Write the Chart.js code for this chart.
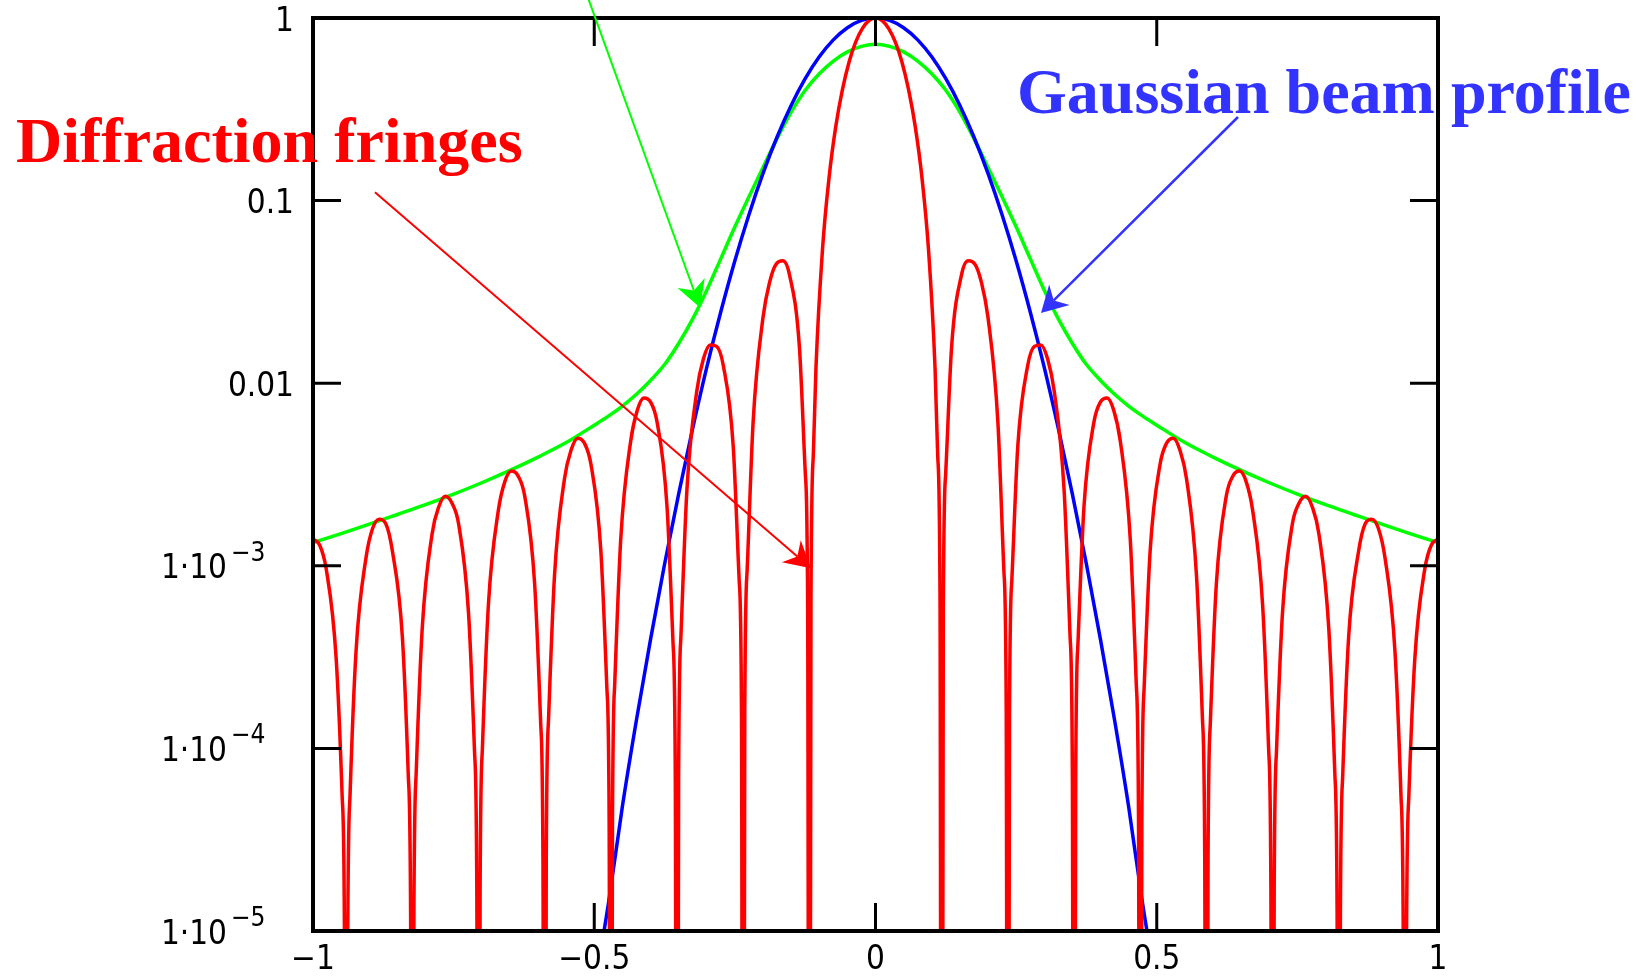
<!DOCTYPE html>
<html lang="en">
<head>
<meta charset="utf-8">
<title>Diffraction fringes</title>
<script src="https://cdn.jsdelivr.net/npm/chart.js@4.4.1/dist/chart.umd.min.js"></script>
<style>
  html, body { margin: 0; padding: 0; background: #fff; }
  #wrap { width: 1641px; height: 980px; }
</style>
</head>
<body>
<div id="wrap"><canvas id="beugung" width="1641" height="980"></canvas></div>
<script>
// --- Achsen / Ticks ---
const X_TICKS     = [-1, -0.5, 0, 0.5, 1];
const X_TICK_TEXT = ['\u22121', '\u22120.5', '0', '0.5', '1'];
const Y_TICKS     = [1e-5, 1e-4, 1e-3, 0.01, 0.1, 1];
const Y_TICK_TEXT = ['1\u00b710', '1\u00b710', '1\u00b710', '0.01', '0.1', '1'];
const Y_TICK_EXP  = ['\u22125', '\u22124', '\u22123', '', '', ''];

// --- Beugungsstreifen (rot), Nullstellen als 1e-9 -> laufen unten aus dem Bild ---
const redX = [
  -1.0, -0.9882, -0.9765, -0.9588, -0.9482, -0.9441, -0.9412,
  -0.9382, -0.9341, -0.9235, -0.9059, -0.8941, -0.8824, -0.8706, -0.8588, -0.8412, -0.8306, -0.8265, -0.8235,
  -0.8206, -0.8165, -0.8059, -0.7882, -0.7765, -0.7647, -0.7529, -0.7412, -0.7235, -0.7129, -0.7088, -0.7059,
  -0.7029, -0.6988, -0.6882, -0.6706, -0.6588, -0.6471, -0.6353, -0.6235, -0.6059, -0.5953, -0.5912, -0.5882,
  -0.5853, -0.5812, -0.5706, -0.5529, -0.5412, -0.5294, -0.5176, -0.5059, -0.4882, -0.4776, -0.4735, -0.4706,
  -0.4676, -0.4635, -0.4529, -0.4353, -0.4235, -0.4118, -0.4, -0.3882, -0.3706, -0.36, -0.3559, -0.3529,
  -0.35, -0.3459, -0.3353, -0.3176, -0.3059, -0.2941, -0.2824, -0.2706, -0.2529, -0.2424, -0.2382, -0.2353,
  -0.2324, -0.2282, -0.2176, -0.2, -0.1882, -0.1765, -0.1647, -0.1529, -0.1353, -0.1247, -0.1206, -0.1176,
  -0.1147, -0.1106, -0.1059, -0.0941, -0.0824, -0.0706, -0.0588, -0.0471, -0.0353, -0.0235, -0.0118,
  0,
  0.0118, 0.0235, 0.0353, 0.0471, 0.0588, 0.0706, 0.0824, 0.0941, 0.1059, 0.1106, 0.1147,
  0.1176, 0.1206, 0.1247, 0.1353, 0.1529, 0.1647, 0.1765, 0.1882, 0.2, 0.2176, 0.2282, 0.2324,
  0.2353, 0.2382, 0.2424, 0.2529, 0.2706, 0.2824, 0.2941, 0.3059, 0.3176, 0.3353, 0.3459, 0.35,
  0.3529, 0.3559, 0.36, 0.3706, 0.3882, 0.4, 0.4118, 0.4235, 0.4353, 0.4529, 0.4635, 0.4676,
  0.4706, 0.4735, 0.4776, 0.4882, 0.5059, 0.5176, 0.5294, 0.5412, 0.5529, 0.5706, 0.5812, 0.5853,
  0.5882, 0.5912, 0.5953, 0.6059, 0.6235, 0.6353, 0.6471, 0.6588, 0.6706, 0.6882, 0.6988, 0.7029,
  0.7059, 0.7088, 0.7129, 0.7235, 0.7412, 0.7529, 0.7647, 0.7765, 0.7882, 0.8059, 0.8165, 0.8206,
  0.8235, 0.8265, 0.8306, 0.8412, 0.8588, 0.8706, 0.8824, 0.8941, 0.9059, 0.9235, 0.9341, 0.9382,
  0.9412, 0.9441, 0.9482, 0.9588, 0.9765, 0.9882, 1.0
];
const redY = [
  0.0014, 0.0013, 0.00096, 0.00031, 5.5e-5, 9.7e-6, 1e-9,
  9.8e-6, 5.6e-5, 0.00034, 0.0011, 0.0016, 0.0018, 0.0017, 0.0012, 0.00041, 7.1e-5, 1.26e-5, 1e-9,
  1.28e-5, 7.4e-5, 0.00045, 0.0015, 0.0021, 0.0024, 0.0022, 0.0017, 0.00055, 9.7e-5, 1.72e-5, 1e-9,
  1.75e-5, 0.000101, 0.00061, 0.002, 0.0029, 0.0033, 0.0031, 0.0024, 0.00079, 0.000139, 2.47e-5, 1e-9,
  2.52e-5, 0.000146, 0.00089, 0.003, 0.0043, 0.005, 0.0047, 0.0036, 0.0012, 0.000216, 3.85e-5, 1e-9,
  3.95e-5, 0.000229, 0.0014, 0.0048, 0.0071, 0.0083, 0.0079, 0.0061, 0.0021, 0.00038, 6.8e-5, 1e-9,
  7e-5, 0.000412, 0.0026, 0.0091, 0.0136, 0.0162, 0.0159, 0.0125, 0.0045, 0.000838, 0.000152, 1e-9,
  0.00016, 0.000945, 0.0061, 0.0229, 0.0358, 0.045, 0.0468, 0.0392, 0.0158, 0.00317, 0.000594, 1e-9,
  0.000656, 0.004, 0.012, 0.0547, 0.135, 0.255, 0.405, 0.573, 0.737, 0.875, 0.967,
  1,
  0.967, 0.875, 0.737, 0.573, 0.405, 0.255, 0.135, 0.0547, 0.012, 0.004, 0.000656,
  1e-9, 0.000594, 0.00317, 0.0158, 0.0392, 0.0468, 0.045, 0.0358, 0.0229, 0.0061, 0.000945, 0.00016,
  1e-9, 0.000152, 0.000838, 0.0045, 0.0125, 0.0159, 0.0162, 0.0136, 0.0091, 0.0026, 0.000412, 7e-5,
  1e-9, 6.8e-5, 0.00038, 0.0021, 0.0061, 0.0079, 0.0083, 0.0071, 0.0048, 0.0014, 0.000229, 3.95e-5,
  1e-9, 3.85e-5, 0.000216, 0.0012, 0.0036, 0.0047, 0.005, 0.0043, 0.003, 0.00089, 0.000146, 2.52e-5,
  1e-9, 2.47e-5, 0.000139, 0.00079, 0.0024, 0.0031, 0.0033, 0.0029, 0.002, 0.00061, 0.000101, 1.75e-5,
  1e-9, 1.72e-5, 9.7e-5, 0.00055, 0.0017, 0.0022, 0.0024, 0.0021, 0.0015, 0.00045, 7.4e-5, 1.28e-5,
  1e-9, 1.26e-5, 7.1e-5, 0.00041, 0.0012, 0.0017, 0.0018, 0.0016, 0.0011, 0.00034, 5.6e-5, 9.8e-6,
  1e-9, 9.7e-6, 5.5e-5, 0.00031, 0.00096, 0.0013, 0.0014
];

// --- Gaußprofil (blau) ---
const blueX = [
  -0.5, -0.475, -0.45, -0.425, -0.4, -0.375, -0.35, -0.325, -0.3, -0.275,
  -0.25, -0.225, -0.2, -0.175, -0.15, -0.125, -0.1, -0.075, -0.05, -0.025,
  0,
  0.025, 0.05, 0.075, 0.1, 0.125, 0.15, 0.175, 0.2, 0.225, 0.25,
  0.275, 0.3, 0.325, 0.35, 0.375, 0.4, 0.425, 0.45, 0.475, 0.5
];
const blueY = [
  4.8e-6, 1.4e-5, 4.8e-5, 0.000143, 0.000394, 0.00102, 0.00247, 0.00565, 0.0122, 0.0246,
  0.0468, 0.0837, 0.141, 0.223, 0.332, 0.465, 0.613, 0.759, 0.885, 0.97,
  1,
  0.97, 0.885, 0.759, 0.613, 0.465, 0.332, 0.223, 0.141, 0.0837, 0.0468,
  0.0246, 0.0122, 0.00565, 0.00247, 0.00102, 0.000394, 0.000143, 4.8e-5, 1.4e-5, 4.8e-6
];

// --- Einhüllende (grün) ---
const greenX = [
  -1.0, -0.95, -0.9, -0.85, -0.8, -0.75, -0.7, -0.65, -0.6, -0.55, -0.5,
  -0.475, -0.45, -0.425, -0.4, -0.375, -0.35, -0.325, -0.3, -0.275, -0.25,
  -0.225, -0.2, -0.175, -0.15, -0.125, -0.1, -0.075, -0.05, -0.025,
  0,
  0.025, 0.05, 0.075, 0.1, 0.125, 0.15, 0.175, 0.2, 0.225,
  0.25, 0.275, 0.3, 0.325, 0.35, 0.375, 0.4, 0.425, 0.45, 0.475,
  0.5, 0.55, 0.6, 0.65, 0.7, 0.75, 0.8, 0.85, 0.9, 0.95, 1.0
];
const greenY = [
  0.00134, 0.0015, 0.00169, 0.00191, 0.00216, 0.00247, 0.00285, 0.00333, 0.00394, 0.00473, 0.00589,
  0.0066, 0.0075, 0.0087, 0.01035, 0.01265, 0.0165, 0.0225, 0.0323, 0.0481, 0.0719,
  0.105, 0.152, 0.2185, 0.305, 0.402, 0.495, 0.581, 0.652, 0.699,
  0.719,
  0.699, 0.652, 0.581, 0.495, 0.402, 0.305, 0.2185, 0.152, 0.105,
  0.0719, 0.0481, 0.0323, 0.0225, 0.0165, 0.01265, 0.01035, 0.0087, 0.0075, 0.0066,
  0.00589, 0.00473, 0.00394, 0.00333, 0.00285, 0.00247, 0.00216, 0.00191, 0.00169, 0.0015, 0.00134
];

// Beschriftungen und Pfeile in Datenkoordinaten
const HINWEISE = [
  { text: 'Diffraction fringes',   farbe: '#ff0000', x: -1.528, y: 0.1625 },
  { text: 'Gaussian beam profile', farbe: '#3333ff', x: 0.2516, y: 0.3017 },
];
const PFEILE = [
  { farbe: '#00ff00', von: [-0.516, 1.42],  nach: [-0.312, 0.026],   breite: 2 },
  { farbe: '#ff0000', von: [-0.8898, 0.111], nach: [-0.1147, 0.00097], breite: 2 },
  { farbe: '#3333ff', von: [0.6444, 0.287], nach: [0.2942, 0.0242],  breite: 2.5 },
];

const TICK_LAENGE = 28;
const TICK_FONT = '"DejaVu Sans Condensed", "DejaVu Sans", sans-serif';

function punkte(xs, ys) {
  return xs.map((x, i) => ({ x, y: ys[i] }));
}

function zeichnePfeil(ctx, x1, y1, x2, y2, farbe, breite) {
  const len = Math.hypot(x2 - x1, y2 - y1);
  const ux = (x2 - x1) / len, uy = (y2 - y1) / len;
  const nx = -uy, ny = ux;
  const kopf = 26, halb = 14.5, kerbe = 18;
  ctx.strokeStyle = farbe;
  ctx.fillStyle = farbe;
  ctx.lineWidth = breite;
  ctx.beginPath();
  ctx.moveTo(x1, y1);
  ctx.lineTo(x2 - ux * kerbe, y2 - uy * kerbe);
  ctx.stroke();
  ctx.beginPath();
  ctx.moveTo(x2, y2);
  ctx.lineTo(x2 - ux * kopf + nx * halb, y2 - uy * kopf + ny * halb);
  ctx.lineTo(x2 - ux * kerbe, y2 - uy * kerbe);
  ctx.lineTo(x2 - ux * kopf - nx * halb, y2 - uy * kopf - ny * halb);
  ctx.closePath();
  ctx.fill();
}

// Rahmen, nach innen zeigende Ticks, Achsentexte, Hinweise
const rahmenPlugin = {
  id: 'rahmen',
  afterDraw(chart) {
    const { ctx, chartArea: a } = chart;
    const sx = chart.scales.x, sy = chart.scales.y;
    ctx.save();

    ctx.strokeStyle = '#000';
    ctx.lineWidth = 3;
    ctx.beginPath();
    X_TICKS.forEach(v => {
      if (v <= -1 || v >= 1) return;
      const px = sx.getPixelForValue(v);
      ctx.moveTo(px, a.top);    ctx.lineTo(px, a.top + TICK_LAENGE);
      ctx.moveTo(px, a.bottom); ctx.lineTo(px, a.bottom - TICK_LAENGE);
    });
    Y_TICKS.forEach(v => {
      if (v <= 1e-5 || v >= 1) return;
      const py = sy.getPixelForValue(v);
      ctx.moveTo(a.left, py);  ctx.lineTo(a.left + TICK_LAENGE, py);
      ctx.moveTo(a.right, py); ctx.lineTo(a.right - TICK_LAENGE, py);
    });
    ctx.stroke();

    ctx.lineWidth = 4;
    ctx.strokeRect(a.left, a.top, a.right - a.left, a.bottom - a.top);

    // Achsenbeschriftung
    ctx.fillStyle = '#000';
    ctx.textBaseline = 'middle';
    ctx.textAlign = 'center';
    ctx.font = '33px ' + TICK_FONT;
    X_TICKS.forEach((v, i) => {
      ctx.fillText(X_TICK_TEXT[i], sx.getPixelForValue(v), a.bottom + 29);
    });

    Y_TICKS.forEach((v, i) => {
      const py = sy.getPixelForValue(v);
      ctx.font = '33px ' + TICK_FONT;
      ctx.textBaseline = 'middle';
      if (Y_TICK_EXP[i]) {
        ctx.textAlign = 'right';
        ctx.fillText(Y_TICK_TEXT[i], a.left - 86, py + 4);
        ctx.font = '26px ' + TICK_FONT;
        ctx.textAlign = 'left';
        ctx.textBaseline = 'alphabetic';
        ctx.fillText(Y_TICK_EXP[i], a.left - 82, py - 5);
      } else {
        ctx.textAlign = 'right';
        ctx.fillText(Y_TICK_TEXT[i], a.left - 19, py + 4);
      }
    });

    // Pfeile
    PFEILE.forEach(p => {
      zeichnePfeil(ctx,
        sx.getPixelForValue(p.von[0]), sy.getPixelForValue(p.von[1]),
        sx.getPixelForValue(p.nach[0]), sy.getPixelForValue(p.nach[1]),
        p.farbe, p.breite);
    });

    // Texte
    ctx.font = 'bold 64px "Liberation Serif", "Times New Roman", serif';
    ctx.textAlign = 'left';
    ctx.textBaseline = 'alphabetic';
    HINWEISE.forEach(h => {
      ctx.fillStyle = h.farbe;
      ctx.fillText(h.text, sx.getPixelForValue(h.x), sy.getPixelForValue(h.y));
    });

    ctx.restore();
  }
};

// monotone Interpolation: runde Kuppen ohne Überschwinger
const linie = (label, xs, ys, farbe) => ({
  label,
  data: punkte(xs, ys),
  showLine: true,
  borderColor: farbe,
  backgroundColor: farbe,
  borderWidth: 3.5,
  pointRadius: 0,
  cubicInterpolationMode: 'monotone',
  fill: false,
});

new Chart(document.getElementById('beugung'), {
  type: 'scatter',
  data: {
    datasets: [
      linie('Diffraction', redX, redY, '#ff0000'),
      linie('Gaussian', blueX, blueY, '#0000ff'),
      linie('Envelope', greenX, greenY, '#00ff00'),
    ],
  },
  options: {
    responsive: false,
    animation: false,
    layout: { padding: { left: 313, right: 203, top: 18, bottom: 49 } },
    plugins: {
      legend: { display: false },
      tooltip: { enabled: false },
    },
    scales: {
      x: { type: 'linear', min: -1, max: 1, display: false },
      y: { type: 'logarithmic', min: 1e-5, max: 1, display: false },
    },
  },
  plugins: [rahmenPlugin],
});
</script>
</body>
</html>
